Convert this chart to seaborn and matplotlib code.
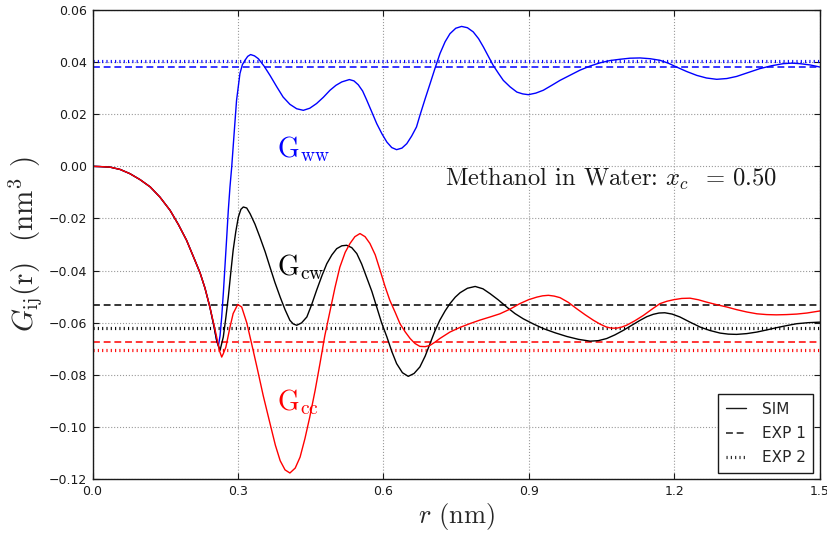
import numpy as np
import pandas as pd
import matplotlib
matplotlib.use("Agg")
import matplotlib.pyplot as plt
from matplotlib.lines import Line2D
import seaborn as sns

# ---------------- data ----------------
# shared initial part (all three curves coincide, red drawn on top)
r_shared = [0.000, 0.016, 0.036, 0.057, 0.077, 0.098, 0.119, 0.139, 0.160, 0.177,
            0.194, 0.211, 0.222, 0.232, 0.242]
g_shared = [0.0000, -0.0001, -0.0003, -0.0012, -0.0028, -0.0051, -0.0079, -0.0118,
            -0.0169, -0.0223, -0.0284, -0.0360, -0.0410, -0.0468, -0.0540]

r_cc = [0.250, 0.256, 0.2615, 0.2664, 0.2697, 0.275, 0.2835, 0.290, 0.2995, 0.3076,
        0.318, 0.328, 0.339, 0.352, 0.366, 0.377, 0.387, 0.397, 0.407, 0.418,
        0.428, 0.438, 0.448, 0.459, 0.469, 0.479, 0.490, 0.500, 0.510, 0.521,
        0.531, 0.541, 0.5515, 0.562, 0.572, 0.583, 0.593, 0.603, 0.613, 0.624,
        0.634, 0.645, 0.655, 0.665, 0.675, 0.686, 0.696, 0.706, 0.716, 0.737,
        0.758, 0.779, 0.799, 0.820, 0.840, 0.861, 0.881, 0.899, 0.916, 0.928,
        0.940, 0.952, 0.964, 0.981, 0.998, 1.016, 1.033, 1.047, 1.060, 1.070,
        1.081, 1.091, 1.101, 1.118, 1.136, 1.153, 1.170, 1.184, 1.198, 1.215,
        1.232, 1.249, 1.266, 1.287, 1.308, 1.328, 1.349, 1.370, 1.390, 1.410,
        1.431, 1.452, 1.473, 1.500]
g_cc = [-0.0605, -0.0655, -0.0706, -0.0732, -0.0719, -0.0694, -0.0617, -0.0565, -0.0530, -0.0540,
        -0.0600, -0.0680, -0.0770, -0.0880, -0.0987, -0.1070, -0.1130, -0.1165, -0.1177, -0.1158,
        -0.1116, -0.1045, -0.0962, -0.0860, -0.0757, -0.0650, -0.0553, -0.0465, -0.0387, -0.0330,
        -0.0296, -0.0270, -0.0258, -0.0270, -0.0296, -0.0340, -0.0399, -0.0460, -0.0514, -0.0560,
        -0.0604, -0.0636, -0.0661, -0.0680, -0.0691, -0.0692, -0.0687, -0.0675, -0.0661, -0.0636,
        -0.0618, -0.0603, -0.0590, -0.0578, -0.0566, -0.0548, -0.0527, -0.0512, -0.0502, -0.0497,
        -0.0495, -0.0498, -0.0504, -0.0522, -0.0546, -0.0570, -0.0591, -0.0606, -0.0617, -0.0621,
        -0.0621, -0.0617, -0.0610, -0.0593, -0.0572, -0.0549, -0.0527, -0.0518, -0.0512, -0.0507,
        -0.0506, -0.0512, -0.0521, -0.0531, -0.0540, -0.0550, -0.0559, -0.0566, -0.0569, -0.0570,
        -0.0569, -0.0567, -0.0563, -0.0555]

r_cw = [0.250, 0.2565, 0.263, 0.2697, 0.275, 0.280, 0.285, 0.290, 0.2955, 0.3007,
        0.306, 0.311, 0.318, 0.325, 0.335, 0.345, 0.356, 0.366, 0.376, 0.387,
        0.397, 0.407, 0.414, 0.421, 0.431, 0.442, 0.452, 0.462, 0.473, 0.483,
        0.4935, 0.5035, 0.514, 0.524, 0.5345, 0.545, 0.555, 0.565, 0.576, 0.586,
        0.596, 0.607, 0.617, 0.627, 0.639, 0.651, 0.663, 0.675, 0.686, 0.696,
        0.706, 0.716, 0.727, 0.737, 0.748, 0.758, 0.773, 0.789, 0.805, 0.820,
        0.837, 0.854, 0.871, 0.888, 0.909, 0.930, 0.954, 0.978, 1.002, 1.026,
        1.043, 1.060, 1.077, 1.094, 1.111, 1.129, 1.143, 1.156, 1.168, 1.180,
        1.195, 1.211, 1.232, 1.253, 1.273, 1.294, 1.311, 1.328, 1.349, 1.370,
        1.390, 1.411, 1.432, 1.452, 1.476, 1.500]
g_cw = [-0.0610, -0.0672, -0.0706, -0.0655, -0.0580, -0.0502, -0.0410, -0.0322, -0.0250, -0.0195,
        -0.0165, -0.0156, -0.0160, -0.0182, -0.0222, -0.0271, -0.0328, -0.0387, -0.0445, -0.0502,
        -0.0550, -0.0591, -0.0605, -0.0610, -0.0601, -0.0578, -0.0530, -0.0476, -0.0420, -0.0374,
        -0.0340, -0.0316, -0.0305, -0.0303, -0.0312, -0.0335, -0.0375, -0.0425, -0.0480, -0.0540,
        -0.0600, -0.0655, -0.0710, -0.0757, -0.0792, -0.0806, -0.0795, -0.0770, -0.0728, -0.0680,
        -0.0632, -0.0591, -0.0555, -0.0527, -0.0502, -0.0485, -0.0468, -0.0461, -0.0470, -0.0489,
        -0.0513, -0.0540, -0.0565, -0.0585, -0.0605, -0.0623, -0.0639, -0.0653, -0.0664, -0.0671,
        -0.0669, -0.0661, -0.0647, -0.0630, -0.0611, -0.0591, -0.0577, -0.0568, -0.0563, -0.0562,
        -0.0567, -0.0578, -0.0598, -0.0617, -0.0630, -0.0640, -0.0644, -0.0645, -0.0642, -0.0636,
        -0.0628, -0.0619, -0.0611, -0.0604, -0.0600, -0.0598]

r_ww = [0.250, 0.2555, 0.2595, 0.263, 0.2664, 0.270, 0.273, 0.2765, 0.280, 0.2835,
        0.287, 0.292, 0.297, 0.304, 0.309, 0.3144, 0.320, 0.326, 0.334, 0.342,
        0.354, 0.366, 0.380, 0.393, 0.407, 0.421, 0.4347, 0.448, 0.462, 0.476,
        0.4897, 0.502, 0.514, 0.5296, 0.539, 0.548, 0.557, 0.565, 0.576, 0.586,
        0.597, 0.607, 0.617, 0.627, 0.638, 0.648, 0.658, 0.668, 0.675, 0.686,
        0.696, 0.706, 0.7165, 0.727, 0.737, 0.749, 0.761, 0.773, 0.785, 0.796,
        0.806, 0.816, 0.826, 0.837, 0.847, 0.861, 0.875, 0.887, 0.8986, 0.914,
        0.9295, 0.947, 0.964, 0.985, 1.005, 1.026, 1.046, 1.067, 1.088, 1.108,
        1.129, 1.150, 1.170, 1.187, 1.2045, 1.225, 1.246, 1.266, 1.287, 1.308,
        1.328, 1.352, 1.376, 1.400, 1.424, 1.442, 1.459, 1.480, 1.500]
g_ww = [-0.0610, -0.0665, -0.0690, -0.0650, -0.0578, -0.0480, -0.0387, -0.0280, -0.0169, -0.0078,
        -0.0003, 0.0126, 0.0253, 0.0356, 0.0390, 0.0407, 0.0422, 0.0429, 0.0424, 0.0413,
        0.0384, 0.0349, 0.0305, 0.0266, 0.0238, 0.0221, 0.0215, 0.0223, 0.0241, 0.0265,
        0.0292, 0.0311, 0.0324, 0.0333, 0.0328, 0.0313, 0.0289, 0.0256, 0.0208, 0.0164,
        0.0124, 0.0093, 0.0072, 0.0064, 0.0070, 0.0087, 0.0116, 0.0151, 0.0195, 0.0260,
        0.0317, 0.0375, 0.0433, 0.0478, 0.0509, 0.0530, 0.0537, 0.0532, 0.0516, 0.0490,
        0.0458, 0.0423, 0.0388, 0.0357, 0.0330, 0.0305, 0.0285, 0.0278, 0.0275, 0.0281,
        0.0292, 0.0311, 0.0330, 0.0350, 0.0369, 0.0385, 0.0397, 0.0406, 0.0411, 0.0415,
        0.0416, 0.0413, 0.0407, 0.0396, 0.0381, 0.0364, 0.0349, 0.0339, 0.0334, 0.0337,
        0.0345, 0.0360, 0.0375, 0.0386, 0.0394, 0.0396, 0.0394, 0.0389, 0.0381]

# experimental reference values (horizontal lines)
exp1 = {"ww": 0.0381, "cw": -0.0532, "cc": -0.0676}
exp2 = {"ww": 0.0404, "cw": -0.0620, "cc": -0.0704}

colors = {"ww": "#0000ff", "cw": "#000000", "cc": "#ff0000"}
labels = {"ww": r"$\mathrm{G_{ww}}$", "cw": r"$\mathrm{G_{cw}}$", "cc": r"$\mathrm{G_{cc}}$"}
label_pos = {"ww": (0.38, 0.0035), "cw": (0.38, -0.0416), "cc": (0.38, -0.0935)}

x_ticks = [0.0, 0.3, 0.6, 0.9, 1.2, 1.5]
y_ticks = [-0.12, -0.10, -0.08, -0.06, -0.04, -0.02, 0.00, 0.02, 0.04, 0.06]

# ---------------- build table ----------------
frames = []
for key, rr, gg in (("ww", r_ww, g_ww), ("cw", r_cw, g_cw), ("cc", r_cc, g_cc)):
    frames.append(pd.DataFrame({"r": r_shared + rr, "G": g_shared + gg, "pair": key}))
df = pd.concat(frames, ignore_index=True)

# ---------------- style ----------------
sns.set_theme(style="ticks")
plt.rcParams["font.family"] = ["DejaVu Sans"]
plt.rcParams["mathtext.fontset"] = "cm"
plt.rcParams["axes.unicode_minus"] = True

fig = plt.figure(figsize=(8.27, 5.36), dpi=100)
ax = fig.add_axes([92.5 / 827, (536 - 479) / 536, 727.5 / 827, 469 / 536])

ax.set_xlim(0.0, 1.5)
ax.set_ylim(-0.12, 0.06)

ax.grid(True, color="0.6", linestyle=":", linewidth=0.8)
ax.set_axisbelow(True)

dot_kw = dict(linestyle=(0, (0.35, 1.0)), linewidth=2.3, dash_capstyle="butt")
dash_kw = dict(linestyle=(0, (4.5, 2.5)), linewidth=1.1)

for key in ("ww", "cw", "cc"):
    ax.axhline(exp2[key], color=colors[key], **dot_kw)
    ax.axhline(exp1[key], color=colors[key], **dash_kw)

for key in ("ww", "cw", "cc"):
    sub = df[df["pair"] == key]
    sns.lineplot(data=sub, x="r", y="G", ax=ax, color=colors[key], linewidth=1.0,
                 estimator=None, sort=False, legend=False)

for key in ("ww", "cw", "cc"):
    x, y = label_pos[key]
    ax.text(x, y, labels[key], color=colors[key], fontsize=20, ha="left", va="baseline")

ax.text(0.727, -0.0073, "Methanol in Water: $x_c$  = 0.50", family="cmr10",
        fontsize=17.7, ha="left", va="baseline", color="k")

ax.set_xticks(x_ticks)
ax.set_xticklabels([f"{v:.1f}" for v in x_ticks])
ax.set_yticks(y_ticks)
ax.set_yticklabels([f"{v:.2f}".replace("-", "\u2212") for v in y_ticks])
ax.tick_params(direction="in", length=4, width=0.8, labelsize=9, pad=4,
               top=True, right=True, colors="k")
for sp in ax.spines.values():
    sp.set_color("k")
    sp.set_linewidth(1.0)

ax.set_xlabel("$r$ (nm)", fontsize=19, family="cmr10")
ax.set_ylabel(r"$G_{\mathrm{ij}}$(r)  (nm$^3$ )", fontsize=21, family="cmr10")
ax.xaxis.label.set_va("center")
ax.yaxis.label.set_va("center")
ax.xaxis.set_label_coords(0.5, (479 - 517) / 469)
ax.yaxis.set_label_coords((25 - 92.5) / 727.5, 0.5)

handles = [Line2D([], [], color="k", linewidth=1.0),
           Line2D([], [], color="k", **dash_kw),
           Line2D([], [], color="k", **dot_kw)]
leg = ax.legend(handles, ["SIM", "EXP 1", "EXP 2"], loc="lower right",
                bbox_to_anchor=(0.9905, 0.0134), borderaxespad=0.0,
                fontsize=11, fancybox=False, framealpha=1.0, edgecolor="k",
                handlelength=1.35, handletextpad=1.0, borderpad=0.5, labelspacing=0.6)
leg.get_frame().set_linewidth(1.0)

fig.savefig("out.png", dpi=100)
